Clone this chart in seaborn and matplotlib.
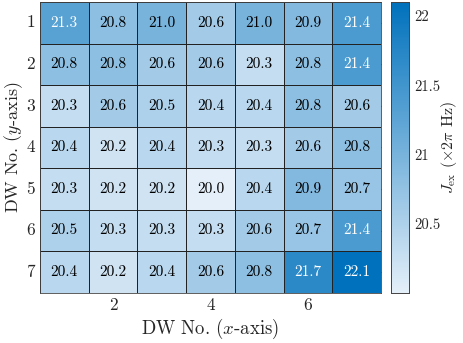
import numpy as np
import pandas as pd
import seaborn as sns
import matplotlib.pyplot as plt
from matplotlib.colors import LinearSegmentedColormap

# exchange coupling per domain wall pair (rows: y-axis DW, cols: x-axis DW)
dw_x = [1, 2, 3, 4, 5, 6, 7]
dw_y = [1, 2, 3, 4, 5, 6, 7]
row1 = [21.3, 20.8, 21.0, 20.6, 21.0, 20.9, 21.4]
row2 = [20.8, 20.8, 20.6, 20.6, 20.3, 20.8, 21.4]
row3 = [20.3, 20.6, 20.5, 20.4, 20.4, 20.8, 20.6]
row4 = [20.4, 20.2, 20.4, 20.3, 20.3, 20.6, 20.8]
row5 = [20.3, 20.2, 20.2, 20.0, 20.4, 20.9, 20.7]
row6 = [20.5, 20.3, 20.3, 20.3, 20.6, 20.7, 21.4]
row7 = [20.4, 20.2, 20.4, 20.6, 20.8, 21.7, 22.1]

df = pd.DataFrame([row1, row2, row3, row4, row5, row6, row7], index=dw_y, columns=dw_x)

sns.set_style('white')
plt.rcParams['font.family'] = 'serif'
plt.rcParams['font.serif'] = ['cmr10']
plt.rcParams['mathtext.fontset'] = 'cm'
plt.rcParams['axes.formatter.use_mathtext'] = True

cmap = LinearSegmentedColormap.from_list('blues', ['#e4eff9', '#0071bc'])

fig = plt.figure(figsize=(4.63, 3.43), dpi=100)
ax = fig.add_axes([0.086, 0.146, 0.737, 0.848])
cax = fig.add_axes([0.845, 0.146, 0.039, 0.848])

sns.heatmap(df, ax=ax, cbar_ax=cax, cmap=cmap, vmin=20.0, vmax=22.1,
            annot=True, fmt='.1f', annot_kws={'fontsize': 11},
            linewidths=0.6, linecolor='#222222')

for t, v in zip(ax.texts, df.values.flatten()):
    t.set_color('white' if v >= 21.25 else 'black')

ax.set_xticks([1.5, 3.5, 5.5])
ax.set_xticklabels(['2', '4', '6'], rotation=0)
ax.set_yticks(np.arange(7) + 0.5)
ax.set_yticklabels([str(v) for v in dw_y], rotation=0)
ax.tick_params(direction='in', length=3, top=True, right=True, labelsize=12.5, color='#444444')
ax.set_xlabel(r'DW No. ($x$-axis)', fontsize=13.5, labelpad=3)
ax.set_ylabel(r'DW No. ($y$-axis)', fontsize=13, labelpad=1)
for s in ax.spines.values():
    s.set_visible(True)
    s.set_color('#444444')
    s.set_linewidth(0.6)

cax.set_yticks([20.5, 21, 21.5, 22])
cax.set_yticklabels(['20.5', '21', '21.5', '22'])
cax.tick_params(direction='in', length=3, labelsize=10.5, color='#444444')
cax.set_ylabel(r'$J_{\rm ex}$ $(\times 2\pi$ Hz$)$', fontsize=11.5, labelpad=-1)
for s in cax.spines.values():
    s.set_visible(True)
    s.set_color('#444444')
    s.set_linewidth(0.6)

fig.savefig('out.png', dpi=100)
